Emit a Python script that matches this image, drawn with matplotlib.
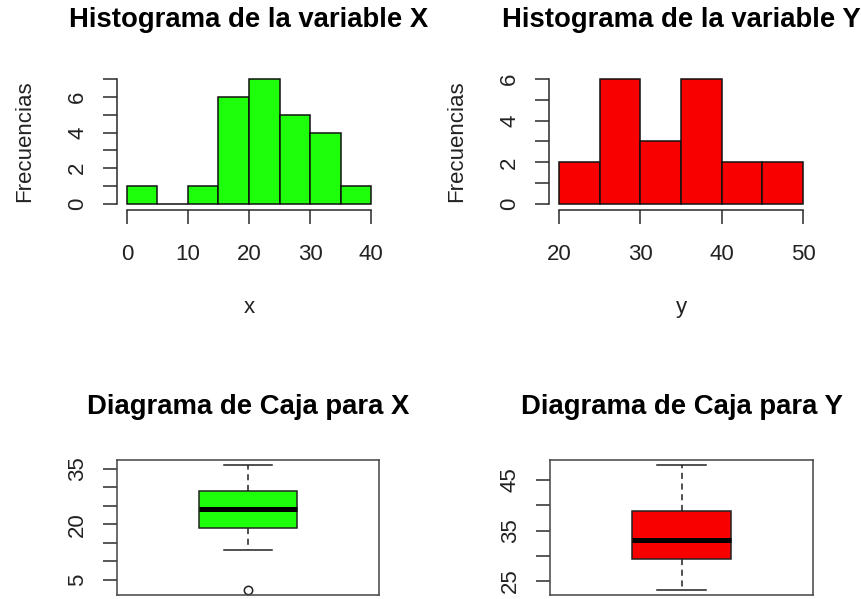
import matplotlib
matplotlib.use("Agg")
import matplotlib.pyplot as plt
import numpy as np

plt.rcParams['font.family'] = ['Liberation Sans', 'DejaVu Sans']

# Histogram data (bin edges and counts)
x_edges = [0, 5, 10, 15, 20, 25, 30, 35, 40]
x_counts = [1, 0, 1, 6, 7, 5, 4, 1]
y_edges = [20, 25, 30, 35, 40, 45, 50]
y_counts = [2, 6, 3, 6, 2, 2]

# Box plot summaries
x_box = dict(whislo=13.1, q1=19.1, med=24.2, q3=29.0, whishi=36.0, fliers=[2.3])
y_box = dict(whislo=23.2, q1=29.4, med=33.1, q3=38.9, whishi=48.0, fliers=[])

x_xticks = [0, 10, 20, 30, 40]
y_xticks = [20, 30, 40, 50]
x_box_ticks = [5, 10, 15, 20, 25, 30, 35]
x_box_labels = ['5', '', '', '20', '', '', '35']
y_box_ticks = [25, 30, 35, 40, 45]
y_box_labels = ['25', '', '35', '', '45']

GREEN = '#1EFF0C'
RED = '#F80000'
AX = '#2a2a2a'

W, H = 861, 599
fig = plt.figure(figsize=(W / 100, H / 100), dpi=100)


def add_axes(l, r, t, b):
    return fig.add_axes([l / W, 1 - b / H, (r - l) / W, (b - t) / H])


TICK_LEN = 10.0
FS = 16
TFS = 19.8


def style_hist(ax, edges, counts, color, xticks, title, xlabel):
    ax.bar(edges[:-1], counts, width=np.diff(edges), align='edge',
           color=color, edgecolor='#111111', linewidth=1.1, zorder=2)
    lo, hi = edges[0], edges[-1]
    ext = 0.04 * (hi - lo)
    ax.set_xlim(lo - ext, hi + ext)
    ymax = max(counts)
    ax.set_ylim(-0.04 * ymax, ymax * 1.04)
    for s in ['top', 'right']:
        ax.spines[s].set_visible(False)
    ax.spines['left'].set_bounds(0, ymax)
    ax.spines['bottom'].set_bounds(lo, hi)
    for s in ['left', 'bottom']:
        ax.spines[s].set_color(AX)
        ax.spines[s].set_linewidth(1.1)
    ax.spines['bottom'].set_position(('outward', 1))
    ax.set_xticks(xticks)
    ax.set_xticklabels([str(v) for v in xticks])
    yt = list(range(0, ymax + 1))
    ax.set_yticks(yt)
    ax.set_yticklabels([str(v) if v % 2 == 0 else '' for v in yt])
    ax.tick_params(axis='both', length=TICK_LEN, width=1.1, color=AX,
                   labelsize=FS, labelcolor='#222222')
    ax.tick_params(axis='x', pad=14)
    ax.tick_params(axis='y', pad=11, labelrotation=90)
    for lab in ax.get_yticklabels():
        lab.set_va('center')
    ax.set_xlabel(xlabel, fontsize=FS, color='#222222')
    ax.xaxis.set_label_coords(0.5, -0.726)
    ax.xaxis.label.set_va('center')
    ax.set_ylabel('Frecuencias', fontsize=FS, color='#222222')
    ax.yaxis.set_label_coords(-0.353, 0.5)
    ax.yaxis.label.set_va('center')
    ax.set_title(title, fontsize=TFS, fontweight='bold', y=1 + 54 / 135,
                 va='center', pad=0)
    ax.patch.set_visible(False)


def style_box(ax, stats, color, ticks, labels, title):
    ax.bxp([stats], positions=[1], widths=0.374, capwidths=0.187,
           patch_artist=True, showfliers=True,
           boxprops=dict(facecolor=color, edgecolor='#222222', linewidth=1.1),
           medianprops=dict(color='black', linewidth=3.6, solid_capstyle='butt'),
           whiskerprops=dict(color='#222222', linewidth=1.1, linestyle=(0, (4, 3))),
           capprops=dict(color='#222222', linewidth=1.1),
           flierprops=dict(marker='o', markerfacecolor='none',
                           markeredgecolor='#222222', markersize=6,
                           markeredgewidth=1.1))
    vals = [stats['whislo'], stats['whishi']] + list(stats['fliers'])
    lo, hi = min(vals), max(vals)
    ext = 0.04 * (hi - lo)
    ax.set_ylim(lo - ext, hi + ext)
    ax.set_xlim(0.5, 1.5)
    ax.set_xticks([])
    ax.set_yticks(ticks)
    ax.set_yticklabels(labels)
    for s in ax.spines.values():
        s.set_color('#444444')
        s.set_linewidth(1.1)
    ax.tick_params(axis='y', length=TICK_LEN, width=1.1, color=AX,
                   labelsize=FS, labelcolor='#222222', pad=11, labelrotation=90)
    for lab in ax.get_yticklabels():
        lab.set_va('center')
    ax.set_title(title, fontsize=TFS, fontweight='bold', y=1 + 53 / 135,
                 va='center', pad=0)


ax1 = add_axes(117.2, 380.8, 74, 209)
style_hist(ax1, x_edges, x_counts, GREEN, x_xticks,
           'Histograma de la variable X', 'x')
ax2 = add_axes(549.2, 812.8, 74, 209)
style_hist(ax2, y_edges, y_counts, RED, y_xticks,
           'Histograma de la variable Y', 'y')
ax3 = add_axes(117, 379, 460, 595)
style_box(ax3, x_box, GREEN, x_box_ticks, x_box_labels, 'Diagrama de Caja para X')
ax4 = add_axes(550, 813, 460, 595)
style_box(ax4, y_box, RED, y_box_ticks, y_box_labels, 'Diagrama de Caja para Y')

fig.savefig('out.png', dpi=100, facecolor='white')
